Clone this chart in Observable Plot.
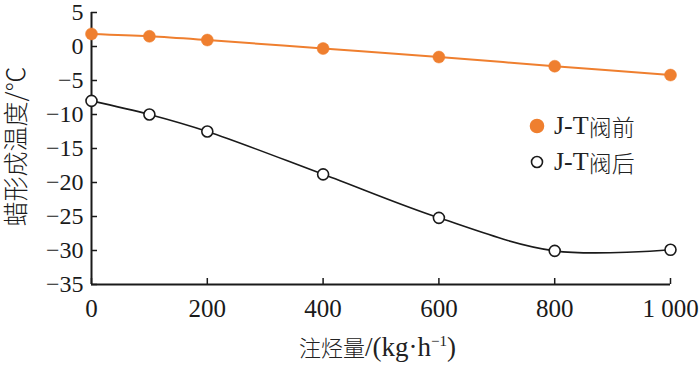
<!DOCTYPE html>
<html>
<head>
<meta charset="utf-8">
<script src="https://cdn.jsdelivr.net/npm/d3@7"></script>
<script src="https://cdn.jsdelivr.net/npm/@observablehq/plot@0.6"></script>
<style>
  html, body { margin: 0; padding: 0; background: #fff; }
  #wrap { position: relative; width: 700px; height: 367px; overflow: hidden;
          font-family: "Liberation Serif", "Noto Serif CJK SC", "Noto Sans CJK SC", serif; color: #222; }
  .ov { position: absolute; white-space: nowrap; line-height: 1; }
  .ov span { line-height: 1; }
  .cjk { font-family: "Noto Sans CJK SC", sans-serif; font-weight: 300; }
</style>
</head>
<body>
<div id="wrap"></div>
<script>
const injection = [0, 100, 200, 400, 600, 800, 1000];
const before = [1.85, 1.5, 0.95, -0.3, -1.55, -2.9, -4.2];
const after = [-8.0, -10.0, -12.5, -18.8, -25.2, -30.05, -29.9];
const seriesNames = ["J-T阀前", "J-T阀后"];
const xTicks = [0, 200, 400, 600, 800, 1000];
const yTicks = [-35, -30, -25, -20, -15, -10, -5, 0, 5];
const yTitle = "蜡形成温度/℃";

const orange = "#ef7f2f";
const ink = "#1a1a1a";

const W = 700, H = 367, mL = 91, mR = 30, mT = 12, mB = 83;
const tickLen = 6;

const beforeData = injection.map((x, i) => ({x, y: before[i]}));
const afterData = injection.map((x, i) => ({x, y: after[i]}));

const chart = Plot.plot({
  width: W,
  height: H,
  marginLeft: mL,
  marginRight: mR,
  marginTop: mT,
  marginBottom: mB,
  style: {fontFamily: "'Liberation Serif', serif", fontSize: "25px", color: ink, background: "#fff"},
  x: {domain: [0, 1000]},
  y: {domain: [-35, 5]},
  marks: [
    Plot.axisX({ticks: xTicks, tickSize: 0, tickPadding: 15, label: null,
      tickFormat: d => d === 1000 ? "1 000" : String(d)}),
    Plot.axisY({ticks: yTicks, tickSize: 0, tickPadding: 8, label: null, fontSize: 24,
      tickFormat: d => d < 0 ? "\u2212" + Math.abs(d) : String(d)}),
    // y-axis title
    Plot.text([yTitle], {text: d => d, frameAnchor: "left", textAnchor: "middle", rotate: -90, dx: -75, dy: -2,
      fontSize: 25, fontWeight: 300, fill: ink,
      fontFamily: "'Noto Sans CJK SC', 'Liberation Serif', sans-serif"}),
    // inward tick marks
    Plot.tickX(xTicks, {x: d => d, stroke: ink, strokeWidth: 1.5, insetTop: H - mT - mB - tickLen}),
    Plot.tickY(yTicks, {y: d => d, stroke: ink, strokeWidth: 1.5, insetRight: W - mL - mR - tickLen}),
    Plot.ruleY([-35], {stroke: ink, strokeWidth: 2}),
    Plot.ruleX([0], {stroke: ink, strokeWidth: 2}),
    Plot.line(beforeData, {x: "x", y: "y", stroke: orange, strokeWidth: 2, curve: "catmull-rom"}),
    Plot.line(afterData, {x: "x", y: "y", stroke: ink, strokeWidth: 1.6, curve: "catmull-rom"}),
    Plot.dot(beforeData, {x: "x", y: "y", r: 6, fill: orange, stroke: orange, strokeWidth: 0.5}),
    Plot.dot(afterData, {x: "x", y: "y", r: 5.5, fill: "#fff", stroke: ink, strokeWidth: 1.6})
  ]
});

const wrap = document.getElementById("wrap");
wrap.appendChild(chart);

function addHTML(html, style) {
  const d = document.createElement("div");
  d.className = "ov";
  d.innerHTML = html;
  Object.assign(d.style, style);
  wrap.appendChild(d);
  return d;
}

// x-axis title
addHTML('<span class="cjk" style="font-size:22px">注烃量</span><span style="font-size:27px">/(kg·h<sup style="font-size:15px;vertical-align:10px">\u22121</sup>)</span>',
  {left: "299px", top: "334px"});

// legend
const legendRows = [
  {name: seriesNames[0], fill: orange, stroke: orange, top: 113},
  {name: seriesNames[1], fill: "#fff", stroke: ink, top: 149}
];
legendRows.forEach(r => {
  addHTML(`<svg width="16" height="16" style="vertical-align:middle"><circle cx="8" cy="8" r="${r.fill === "#fff" ? 5.5 : 6.5}" fill="${r.fill}" stroke="${r.stroke}" stroke-width="1.6"/></svg>` +
    `<span style="font-size:26px;margin-left:9px;vertical-align:middle">J-T</span><span class="cjk" style="font-size:23px;vertical-align:middle">${r.name.slice(3)}</span>`,
    {left: "529px", top: r.top + "px"});
});
</script>
</body>
</html>
